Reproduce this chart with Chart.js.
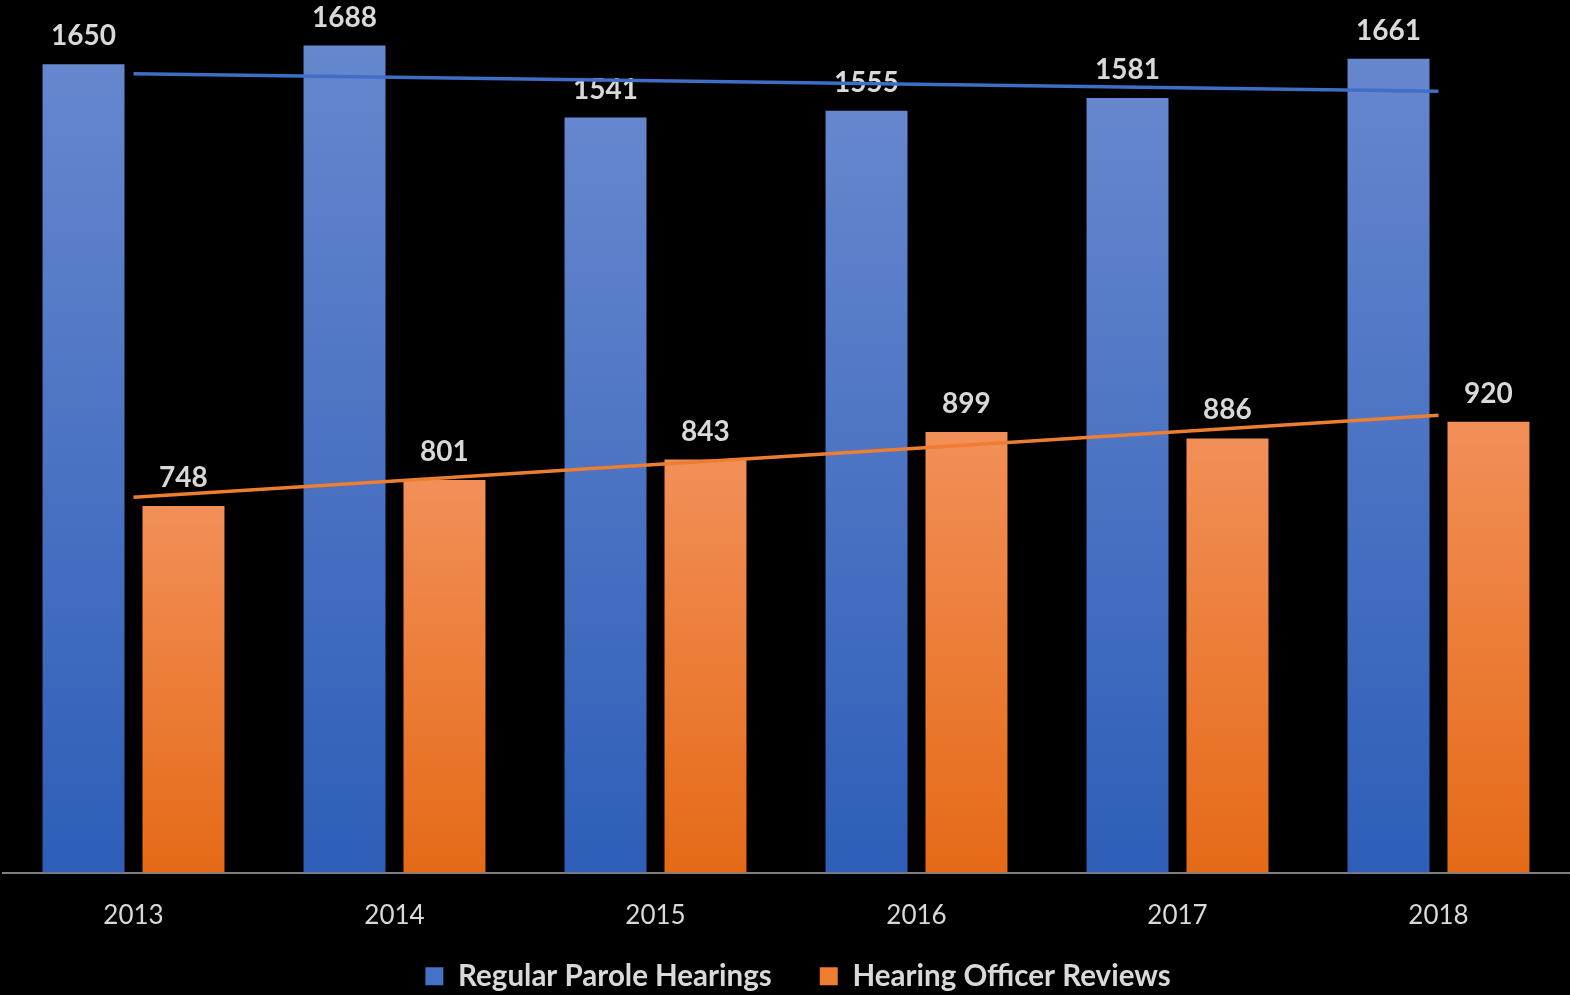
<!DOCTYPE html>
<html><head><meta charset="utf-8">
<script src="https://cdn.jsdelivr.net/npm/chart.js@4/dist/chart.umd.min.js"></script>
<style>html,body{margin:0;padding:0;background:#000;}#wrap{width:1570px;height:995px;position:relative}</style>
</head><body><div id="wrap"><canvas id="c"></canvas></div>
<script>
const categories = ['2013','2014','2015','2016','2017','2018'];
const regularParole = [1650,1688,1541,1555,1581,1661];
const officerReviews = [748,801,843,899,886,920];
const seriesNames = ['Regular Parole Hearings','Hearing Officer Reviews'];

// least-squares linear trend computed from the series values
function trendOf(vals){
  const n = vals.length, mx = (n-1)/2;
  const my = vals.reduce((a,b)=>a+b,0)/n;
  let sxy=0,sxx=0;
  vals.forEach((v,i)=>{sxy+=(i-mx)*(v-my);sxx+=(i-mx)*(i-mx);});
  const m = sxy/sxx;
  return vals.map((v,i)=>my+m*(i-mx));
}

function grad(top, bottom){
  return (ctx)=>{
    const chart = ctx.chart;
    if(!chart.chartArea || ctx.type!=='data' || !chart.scales.y) return bottom;
    const y = chart.scales.y.getPixelForValue(ctx.raw);
    const base = chart.scales.y.getPixelForValue(0);
    const g = chart.ctx.createLinearGradient(0,y,0,base);
    g.addColorStop(0,top); g.addColorStop(1,bottom);
    return g;
  };
}

const labelPlugin = {
  id:'barLabels',
  afterLayout(chart){
    // let the year labels extend below the compact axis box without being clipped
    const x = chart.scales.x;
    x.bottom = x.top + 70;
    if(chart.legend){ chart.legend.left += 12; chart.legend.right += 12; }
  },
  afterDatasetDraw(chart,args){
    const ds = chart.data.datasets[args.index];
    if(ds.type!=='bar') return;
    const ctx = chart.ctx;
    ctx.save();
    ctx.font = 'bold 28px Lato';
    ctx.fillStyle = '#D9D9D9';
    ctx.textAlign = 'center';
    ctx.textBaseline = 'bottom';
    args.meta.data.forEach((el,i)=>{
      ctx.fillText(String(ds.data[i]), el.x, el.y - 14);
    });
    ctx.restore();
  }
};

new Chart(document.getElementById('c'),{
  data:{
    labels:categories,
    datasets:[
      {type:'line',label:'trend1',data:trendOf(regularParole),borderColor:'#3F6EC6',borderWidth:3.5,pointRadius:0,order:0,fill:false},
      {type:'line',label:'trend2',data:trendOf(officerReviews),borderColor:'#ED7D31',borderWidth:3.5,pointRadius:0,order:0,fill:false},
      {type:'bar',label:seriesNames[0],data:regularParole,backgroundColor:grad('#6687CE','#2E5EB8'),categoryPercentage:0.766,barPercentage:0.82,order:1},
      {type:'bar',label:seriesNames[1],data:officerReviews,backgroundColor:grad('#F28F58','#E56A17'),categoryPercentage:0.766,barPercentage:0.82,order:1}
    ]
  },
  options:{
    responsive:true,maintainAspectRatio:false,animation:false,
    layout:{padding:{left:3,right:1,top:0,bottom:-6}},
    scales:{
      x:{grid:{display:false,drawTicks:false},border:{display:true,color:'#7F7F7F',width:2},
         ticks:{color:'#D9D9D9',font:{family:'Lato',size:26},padding:28},
         afterFit:(scale)=>{scale.height = 41;}},
      y:{display:false,min:0,max:1781}
    },
    plugins:{
      tooltip:{enabled:false},
      legend:{position:'bottom',
        labels:{color:'#D9D9D9',font:{family:'Lato',size:29.5,weight:'bold'},boxWidth:18,boxHeight:18,padding:48,
          generateLabels:(chart)=>[
            {text:seriesNames[0],fillStyle:'#4472C4',strokeStyle:'#4472C4',lineWidth:0,fontColor:'#D9D9D9',datasetIndex:2},
            {text:seriesNames[1],fillStyle:'#ED7D31',strokeStyle:'#ED7D31',lineWidth:0,fontColor:'#D9D9D9',datasetIndex:3}
          ]}}
    }
  },
  plugins:[labelPlugin]
});
</script></body></html>
